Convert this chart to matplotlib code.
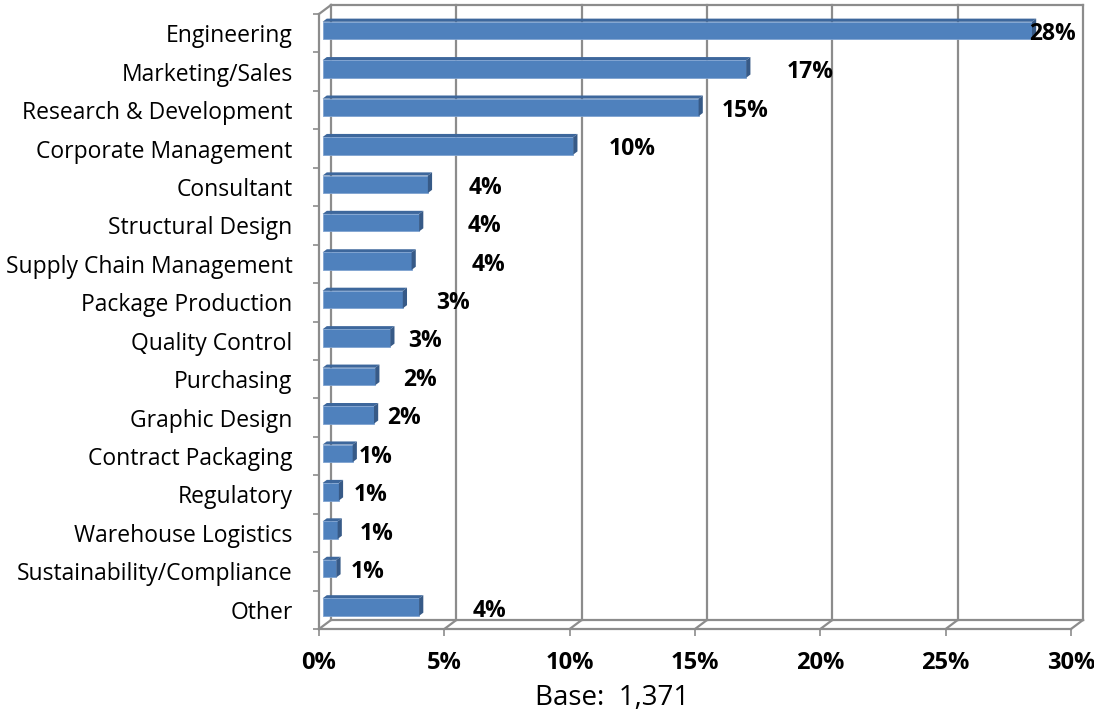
import matplotlib
matplotlib.use("Agg")
import matplotlib.pyplot as plt
from matplotlib.patches import Polygon

categories = ["Engineering", "Marketing/Sales", "Research & Development",
              "Corporate Management", "Consultant", "Structural Design",
              "Supply Chain Management", "Package Production", "Quality Control",
              "Purchasing", "Graphic Design", "Contract Packaging", "Regulatory",
              "Warehouse Logistics", "Sustainability/Compliance", "Other"]
values = [28.3, 16.9, 15.0, 10.0, 4.2, 3.85, 3.55, 3.2, 2.7, 2.1, 2.05,
          1.2, 0.65, 0.6, 0.55, 3.85]
xticks = [0, 5, 10, 15, 20, 25, 30]
base_text = "Base:  1,371"

# where each value label sits along x (in %)
label_x = [29.25, 19.6, 17.0, 12.5, 6.65, 6.6, 6.75, 5.35, 4.25, 4.05, 3.4,
           2.25, 2.05, 2.3, 1.95, 6.8]

FONT = "Open Sans"
GRID = "#8c8c8c"
FRONT = "#4f81bd"
TOP = "#3d679c"
SIDE = "#375a87"

W, H = 1094, 715
fig = plt.figure(figsize=(W / 100, H / 100), dpi=100)
# front plane of the 3d box
x0, x1, ytop, ybot = 319, 1071, 14, 629
ax = fig.add_axes([x0 / W, 1 - ybot / H, (x1 - x0) / W, (ybot - ytop) / H])
n = len(categories)
ax.set_xlim(0, 30)
ax.set_ylim(n - 0.5, -0.5)
for s in ax.spines.values():
    s.set_visible(False)

# depth offset of the back wall, in data units
px_x = 30 / (x1 - x0)
px_y = n / (ybot - ytop)
DX = 12 * px_x
DY = -9 * px_y
FD, BD = 0.3, 0.65
h = 0.455

lw = 1.6
top_y = -0.5
bot_y = n - 0.5
# back wall gridlines + floor
for v in xticks:
    ax.plot([v + DX, v + DX], [top_y + DY, bot_y + DY], color=GRID, lw=lw, zorder=1, clip_on=False)
    ax.plot([v, v + DX], [bot_y, bot_y + DY], color=GRID, lw=lw, zorder=1, clip_on=False)
ax.plot([DX, 30 + DX], [top_y + DY, top_y + DY], color=GRID, lw=lw, zorder=1, clip_on=False)
ax.plot([DX, 30 + DX], [bot_y + DY, bot_y + DY], color=GRID, lw=lw, zorder=1, clip_on=False)
ax.plot([0, 30], [bot_y, bot_y], color=GRID, lw=lw, zorder=1, clip_on=False)
# left wall
ax.plot([0, 0], [top_y, bot_y], color=GRID, lw=lw, zorder=1, clip_on=False)
ax.plot([0, DX], [top_y, top_y + DY], color=GRID, lw=lw, zorder=1, clip_on=False)

# bars: front face via barh, top and side faces as polygons
ys = [i + FD * DY for i in range(n)]
ax.barh(ys, values, left=FD * DX, height=h, color=FRONT, zorder=3,
        edgecolor="#7fa3d1", linewidth=0.6)
for i, v in enumerate(values):
    fx0, fx1 = FD * DX, v + FD * DX
    bx0, bx1 = BD * DX, v + BD * DX
    ft, fb = i + FD * DY - h / 2, i + FD * DY + h / 2
    bt, bb = i + BD * DY - h / 2, i + BD * DY + h / 2
    ax.add_patch(Polygon([(fx0, ft), (fx1, ft), (bx1, bt), (bx0, bt)],
                         closed=True, color=TOP, zorder=2.9, lw=0))
    ax.add_patch(Polygon([(fx1, ft), (fx1, fb), (bx1, bb), (bx1, bt)],
                         closed=True, color=SIDE, zorder=3.1, lw=0))
    ax.text(label_x[i], i + 0.02, f"{round(v)}%", ha="center", va="center",
            fontsize=16.5, fontweight="bold", family=FONT, zorder=5)

# axes ticks and labels
ax.set_xticks(xticks)
ax.set_xticklabels([f"{t}%" for t in xticks], fontsize=17, fontweight="bold", family=FONT)
ax.tick_params(axis="x", length=5, width=1.2, color=GRID, pad=11)
ax.set_yticks(range(n))
ax.set_yticklabels(categories, fontsize=16.5, family=FONT)
ax.tick_params(axis="y", length=0, pad=19)
ax.set_yticks([i - 0.5 for i in range(n + 1)], minor=True)
ax.tick_params(axis="y", which="minor", length=4.5, width=1.2, color=GRID)

fig.text(612 / W, 1 - 698 / H, base_text, ha="center", va="center",
         fontsize=20, family=FONT)

fig.savefig("out.png", dpi=100)
